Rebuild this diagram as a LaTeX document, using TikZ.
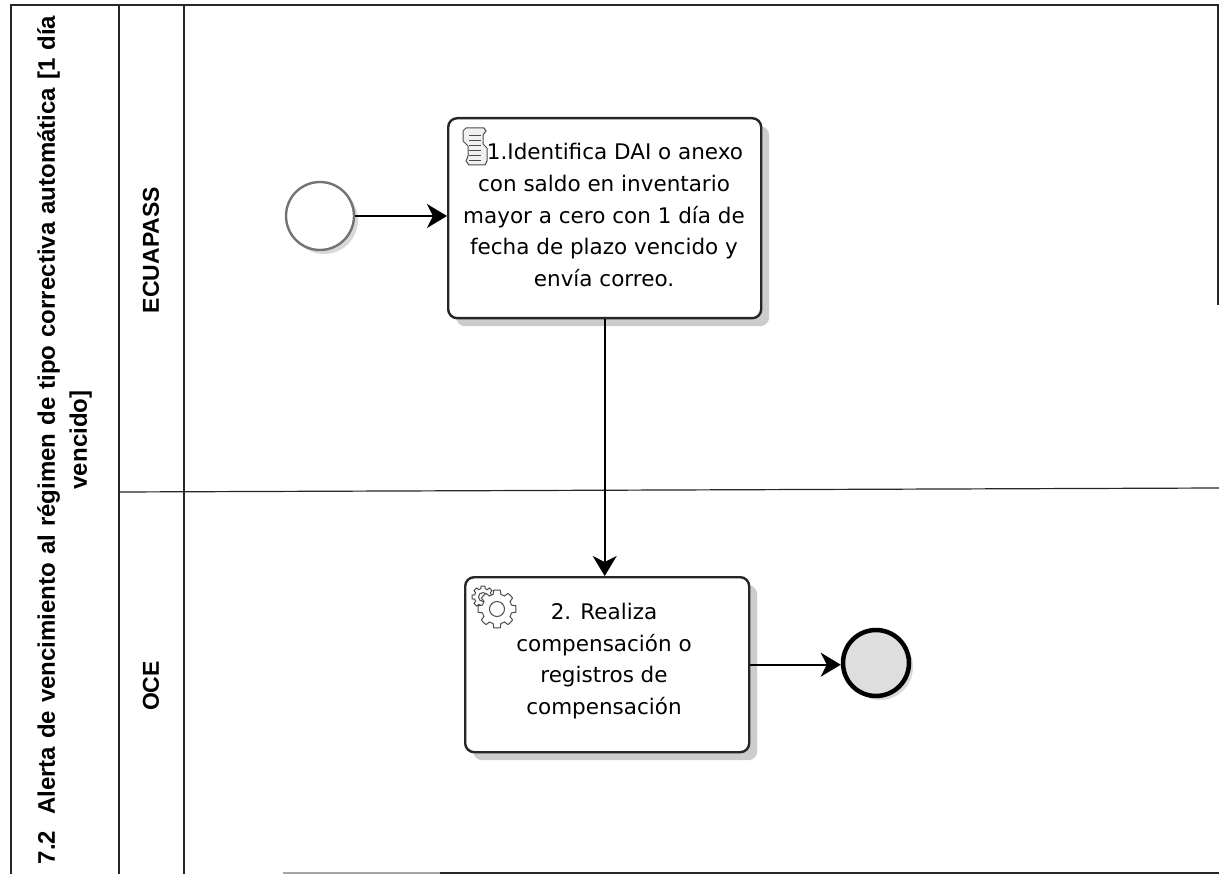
\documentclass[tikz,border=0pt]{standalone}
\usepackage{fontspec}
\setmainfont{DejaVu Sans}
\newfontfamily\condfont{Liberation Sans}
\usetikzlibrary{arrows.meta,shadows,calc}
\tikzset{
  x=1pt,y=-1pt,
  lane/.style={draw=black!85,line width=1.2pt},
  task/.style={draw=black!85,line width=2.4pt,rounded corners=9pt,fill=white,
    inner sep=0pt,anchor=north west,
    general shadow={fill=black!20,shadow xshift=8pt,shadow yshift=-8pt}},
  tasktext/.style={font=\fontsize{21.5}{31.6}\selectfont,align=center},
  flow/.style={draw=black,line width=1.8pt,-{Stealth[length=20pt,width=24pt,inset=6pt]}},
  startev/.style={circle,draw=black!55,line width=2.4pt,minimum size=68pt,inner sep=0pt,fill=white,
    general shadow={fill=black!15,shadow xshift=4pt,shadow yshift=-4pt}},
  endev/.style={circle,draw=black,line width=4.5pt,minimum size=66pt,inner sep=0pt,fill=black!13,
    general shadow={fill=black!15,shadow xshift=4pt,shadow yshift=-4pt}},
  lanetext/.style={rotate=90,font=\condfont\bfseries\fontsize{23}{32}\selectfont,align=center},
  pooltext/.style={rotate=90,font=\condfont\bfseries\fontsize{24}{32}\selectfont,align=center},
  icon/.style={draw=black!70,line width=1pt}
}
\begin{document}
\begin{tikzpicture}
\useasboundingbox (0,0) rectangle (1219,874);
\fill[white] (0,0) rectangle (1219,874);
% frame and lanes
\draw[lane] (11,874) -- (11,5) -- (1218,5) -- (1218,305);
\draw[lane] (119,874) -- (119,5);
\draw[lane] (184,874) -- (184,5);
\draw[lane] (119,492) -- (1219,488);
\draw[lane,draw=black!35] (283,873) -- (440,873);
\draw[lane] (440,873) -- (1219,873);
% labels
\node[pooltext,text width=860pt] (pool) at (64.5,440) {7.2\ \ Alerta de vencimiento al régimen de tipo correctiva automática [1 día\\vencido]};
\node[lanetext] (l1) at (151,250) {ECUAPASS};
\node[lanetext] (l2) at (151,686) {OCE};
% events and tasks
\node[startev] (s) at (320,216) {};
\node[task,minimum width=313pt,minimum height=200pt] (t1) at (447,117) {};
\node[tasktext] (t1t) at (604,215) {\hspace*{22pt}1.Identifica DAI o anexo\\con saldo en inventario\\mayor a cero con 1 día de\\fecha de plazo vencido y\\envía correo.};
\node[task,minimum width=284pt,minimum height=175pt] (t2) at (464,576) {};
\node[tasktext] (t2t) at (604,661) {2. Realiza\\compensación o\\registros de\\compensación};
\node[endev] (e) at (876,663) {};
% connectors
\draw[flow] (s) -- (t1.west |- s);
\draw[flow] (t1.south) -- (t1.south |- t2.north);
\draw[flow] (t2) -- (t2 -| e.west);
% script icon
\begin{scope}[shift={(463,128)}]
\draw[icon,fill=black!6] (3,0) -- (21,0) -- (23,3) -- (20,7) -- (20,16) -- (24,20) -- (24,33) -- (22,37) -- (6,37) -- (3,33) -- (5,28) -- (5,18) -- (0,13) -- (0,3) -- cycle;
\foreach \y in {8,13,18,23,28,33} \draw[icon] (6,\y) -- (18,\y);
\end{scope}
% gear icons
\begin{scope}[shift={(483,597)}]
\draw[icon,fill=white] plot[domain=0:360,samples=73] (\x:{cos(8*\x)>0?11:8.5}) -- cycle;
\draw[icon] (0,0) circle (4.5pt);
\end{scope}
\begin{scope}[shift={(497,609)}]
\draw[icon,fill=white] plot[domain=0:360,samples=73] (\x:{cos(8*\x)>0?19:15}) -- cycle;
\draw[icon] (0,0) circle (7.5pt);
\end{scope}
\end{tikzpicture}
\end{document}
